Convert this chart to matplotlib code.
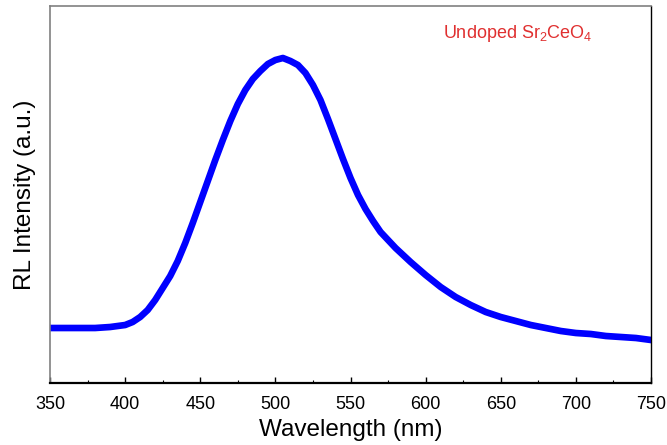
import matplotlib
matplotlib.use('Agg')
import matplotlib.pyplot as plt
from matplotlib.ticker import MultipleLocator

plt.rcParams['font.family'] = ['Liberation Sans', 'DejaVu Sans']
plt.rcParams['mathtext.fontset'] = 'custom'
plt.rcParams['mathtext.rm'] = 'Liberation Sans'

# wavelength (nm) and RL intensity (a.u.)
wavelength = [350, 360, 370, 380, 390, 400, 405, 410, 415, 420, 425, 430,
              435, 440, 445, 450, 455, 460, 465, 470, 475, 480, 485, 490,
              495, 500, 505, 510, 515, 520, 525, 530, 535, 540, 545, 550,
              555, 560, 565, 570, 580, 590, 600, 610, 620, 630, 640, 650,
              660, 670, 680, 690, 700, 710, 720, 730, 740, 750]
intensity = [55, 55, 55, 55, 56, 58, 61, 66, 73, 83, 95, 107,
             122, 140, 160, 181, 202, 223, 243, 262, 279, 293, 304, 312,
             319, 323, 325, 322, 318, 310, 298, 283, 264, 244, 224, 205,
             188, 174, 162, 151, 135, 121, 108, 96, 86, 78, 71, 66,
             62, 58, 55, 52, 50, 49, 47, 46, 45, 43]

label_text = r'Undoped Sr$_\mathregular{2}$CeO$_\mathregular{4}$'


def main():
    fig = plt.figure(figsize=(6.67, 4.45), dpi=100)
    ax = fig.add_axes([0.075, 0.1393, 0.901, 0.8472])

    ax.plot(wavelength, intensity, color='#0000ff', linewidth=4.8,
            solid_joinstyle='round')

    ax.set_xlim(350, 750)
    ax.set_ylim(0, 377)
    ax.xaxis.set_major_locator(MultipleLocator(50))
    ax.xaxis.set_minor_locator(MultipleLocator(25))
    ax.tick_params(axis='x', which='major', direction='in', length=4,
                   width=1, labelsize=13, pad=9)
    ax.tick_params(axis='x', which='minor', direction='in', length=2,
                   width=0.8)
    ax.set_yticks([])

    for side in ('left', 'top'):
        ax.spines[side].set_color('#808080')
        ax.spines[side].set_linewidth(1.2)
    ax.spines['right'].set_color('black')
    ax.spines['right'].set_linewidth(1.0)
    ax.spines['bottom'].set_color('black')
    ax.spines['bottom'].set_linewidth(1.6)

    ax.set_xlabel('Wavelength (nm)', fontsize=17.5, labelpad=5)
    ax.set_ylabel('RL Intensity (a.u.)', fontsize=17.5, labelpad=10)

    ax.text(661, 350, label_text, color='#e03030', fontsize=13,
            ha='center', va='center')

    fig.savefig('out.png', dpi=100)


if __name__ == "__main__":
    main()
